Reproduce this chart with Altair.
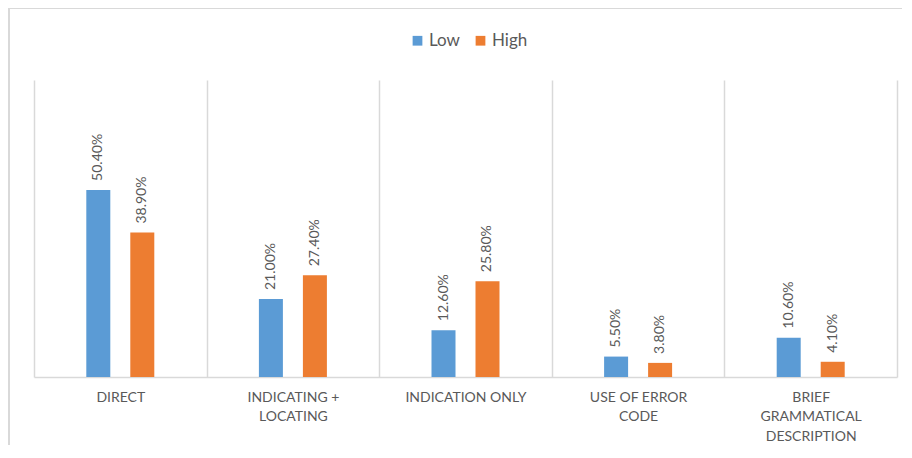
import altair as alt
import pandas as pd

categories = ["DIRECT", "INDICATING +\nLOCATING", "INDICATION ONLY",
              "USE OF ERROR\nCODE", "BRIEF\nGRAMMATICAL\nDESCRIPTION"]
series = ["Low", "High"]
low_values = [0.504, 0.210, 0.126, 0.055, 0.106]
high_values = [0.389, 0.274, 0.258, 0.038, 0.041]
colors = ["#5B9BD5", "#ED7D31"]

rows = []
for c, lo, hi in zip(categories, low_values, high_values):
    rows.append({"category": c, "series": "Low", "value": lo})
    rows.append({"category": c, "series": "High", "value": hi})
df = pd.DataFrame(rows)

W, H = 863, 297
FONT = "Lato"
GRAY = "#595959"

x_enc = alt.X("category:N", sort=categories, title=None,
              scale=alt.Scale(paddingInner=0, paddingOuter=0),
              axis=alt.Axis(labelAngle=0, labelExpr="split(datum.label, '\\n')",
                            labelFont=FONT, labelFontSize=14, labelColor=GRAY,
                            labelPadding=13, labelLineHeight=19.5, labelBaseline="top",
                            ticks=False, grid=True, tickBand="extent",
                            gridColor="#d9d9d9", gridWidth=1.5,
                            domainColor="#d9d9d9", domainWidth=1.5))
xo_enc = alt.XOffset("series:N", sort=series,
                     scale=alt.Scale(paddingInner=0.077, paddingOuter=1))
y_enc = alt.Y("value:Q", scale=alt.Scale(domain=[0, 0.8]), axis=None)

base = alt.Chart(df)

bars = base.mark_bar(width=24).encode(
    x=x_enc, xOffset=xo_enc, y=y_enc,
    color=alt.Color("series:N", sort=series,
                    scale=alt.Scale(domain=series, range=colors),
                    legend=alt.Legend(title=None, orient="none", legendX=375, legendY=-48,
                                      direction="horizontal", symbolType="square",
                                      symbolSize=95, symbolStrokeWidth=0,
                                      labelFont=FONT, labelFontSize=17, labelColor=GRAY,
                                      columnPadding=12, labelOffset=3)),
)

labels = base.mark_text(angle=270, align="left", baseline="middle", dx=9,
                        font=FONT, fontSize=14, color=GRAY).encode(
    x=x_enc, xOffset=xo_enc, y=y_enc,
    text=alt.Text("value:Q", format=".2%"),
)

frame = alt.Chart(alt.Data(values=[{}])).mark_rect(
    fill=None, stroke="#d9d9d9", strokeWidth=2).encode(
    x=alt.value(-25), x2=alt.value(W + 40),
    y=alt.value(-72), y2=alt.value(H + 120),
)

chart = alt.layer(frame, bars, labels).properties(
    width=W, height=H,
    background="#ffffff",
    autosize=alt.AutoSizeParams(type="none"),
    padding={"left": 26, "top": 72, "right": 5, "bottom": 68},
).configure_view(stroke=None)

chart.save("out.html", embed_options={"renderer": "svg", "actions": False})
